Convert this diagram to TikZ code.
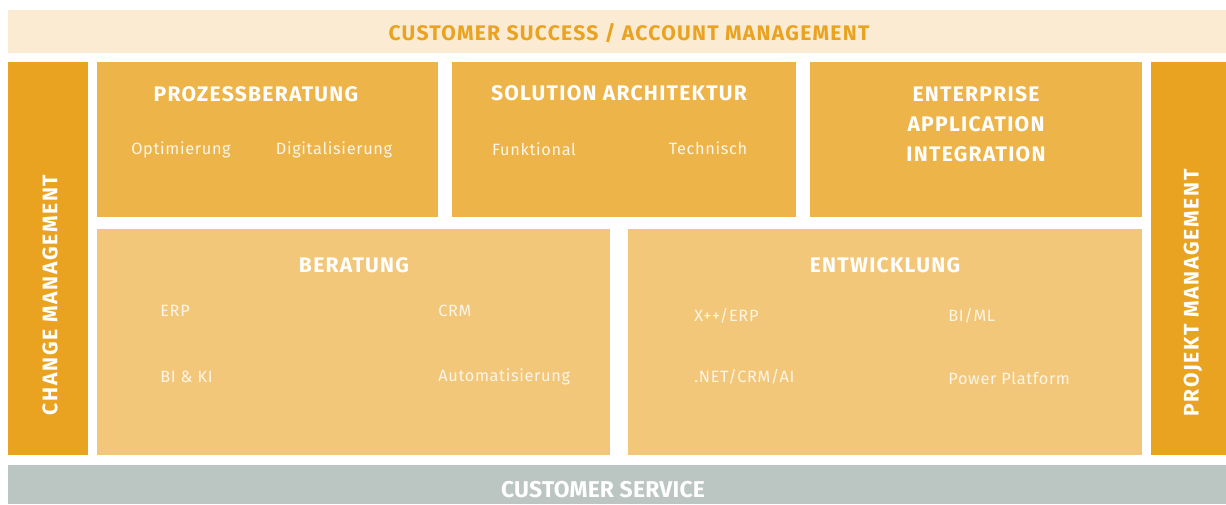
\documentclass[tikz,border=0pt]{standalone}
\usepackage{fontspec}
\setmainfont{Fira Sans}[LetterSpace=4]
\newfontfamily\headfont{Fira Sans}[LetterSpace=6]
\newfontfamily\sidefont{Fira Sans}[LetterSpace=8]
\newfontfamily\tightfont{Fira Sans}[LetterSpace=1]
\usetikzlibrary{positioning}
\definecolor{barcream}{HTML}{FCEBD3}
\definecolor{barorange}{HTML}{E9A320}
\definecolor{boxmid}{HTML}{EDB44A}
\definecolor{boxlight}{HTML}{F2C77A}
\definecolor{bargrey}{HTML}{BBC5C1}
\definecolor{itemwhite}{HTML}{FDF5E6}
\tikzset{
  head/.style={text=white, font=\headfont\fontsize{12}{15}\selectfont\bfseries, align=center, inner sep=0pt},
  item/.style={text=itemwhite, font=\fontsize{9.3}{11}\selectfont, inner sep=0pt},
  sidehead/.style={head, rotate=90, font=\sidefont\fontsize{12}{15}\selectfont\bfseries}
}
\begin{document}
\begin{tikzpicture}[x=0.02cm, y=-0.02cm]
				\useasboundingbox[fill=white] (0,0) rectangle (1226,504);
				
				% top and bottom bars
				\fill[barcream] (8,10) rectangle (1226,53);
				\node[head, text=barorange] (success) at (629,33) {CUSTOMER SUCCESS / ACCOUNT MANAGEMENT};
				\fill[bargrey] (8,465) rectangle (1226,504);
				\node[head, font=\tightfont\fontsize{13}{15}\selectfont\bfseries] (service) at (603,490) {CUSTOMER SERVICE};
				
				% side bars
				\fill[barorange] (8,62) rectangle (88,455);
				\node[sidehead] (change) at (50,295) {CHANGE MANAGEMENT};
				\fill[barorange] (1151,62) rectangle (1226,455);
				\node[sidehead] (projekt) at (1193,293) {PROJEKT MANAGEMENT};
				
				% upper row
				\fill[boxmid] (97,62) rectangle (438,217);
				\node[head] (prozess) at (256,94) {PROZESSBERATUNG};
				\node[item] (optim) at (181,150) {Optimierung};
				\node[item] (digital) at (334,150) {Digitalisierung};
				
				\fill[boxmid] (452,62) rectangle (796,217);
				\node[head] (solution) at (619,93) {SOLUTION ARCHITEKTUR};
				\node[item] (funktional) at (534,149) {Funktional};
				\node[item] (technisch) at (708,148) {Technisch};
				
				\fill[boxmid] (810,62) rectangle (1142,217);
				\node[head, text width=6cm, font=\headfont\fontsize{12}{17}\selectfont\bfseries] (eai) at (976,124) {ENTERPRISE\\APPLICATION\\INTEGRATION};
				
				% lower row
				\fill[boxlight] (97,229) rectangle (610,455);
				\node[head] (beratung) at (354,265) {BERATUNG};
				\node[item, anchor=west] (erp) at (160,311) {ERP};
				\node[item, anchor=west] (crm) at (438,311) {CRM};
				\node[item, anchor=west] (biki) at (160,377) {BI \& KI};
				\node[item, anchor=west] (auto) at (438,377) {Automatisierung};
				
				\fill[boxlight] (628,229) rectangle (1142,455);
				\node[head] (entwicklung) at (885,265) {ENTWICKLUNG};
				\node[item, anchor=west] (xerp) at (694,316) {X++/ERP};
				\node[item, anchor=west] (biml) at (948,316) {BI/ML};
				\node[item, anchor=west] (net) at (694,377) {.NET/CRM/AI};
				\node[item, anchor=west] (power) at (948,378) {Power Platform};
			\end{tikzpicture}
\end{document}
